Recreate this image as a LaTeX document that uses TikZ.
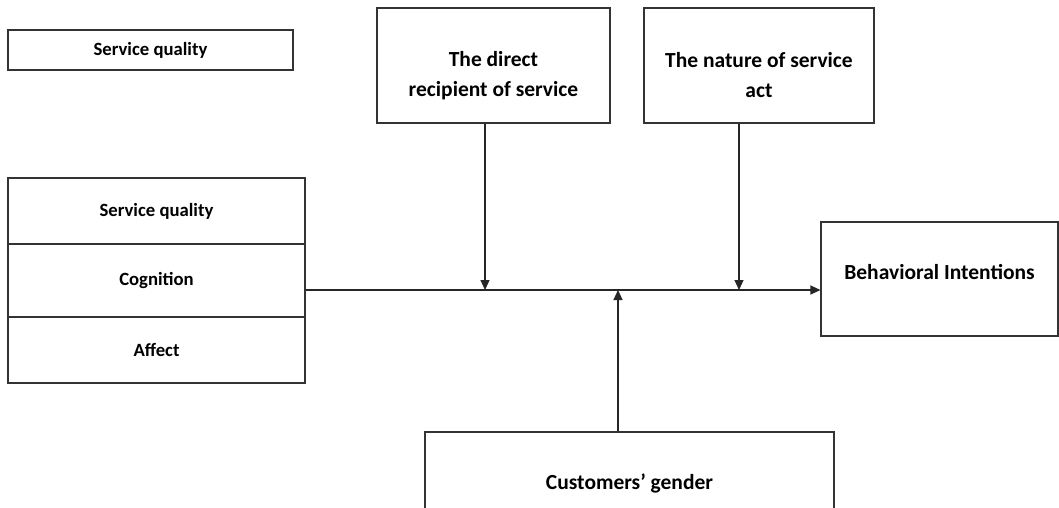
\documentclass[tikz,border=0pt]{standalone}
\usepackage{fontspec}
\setmainfont{Carlito}
\usetikzlibrary{arrows.meta}
\begin{document}
\begin{tikzpicture}[x=1pt,y=-1pt,
  box/.style={draw=black!80,line width=1.1pt,inner sep=0pt,font=\bfseries\fontsize{21.5}{29.5}\selectfont,align=center},
  txt/.style={inner sep=0pt,font=\bfseries\fontsize{21.5}{29.5}\selectfont,align=center},
  smallbox/.style={box,font=\bfseries\fontsize{18.7}{24}\selectfont},
  conn/.style={draw=black!85,line width=1.1pt,-{Triangle[length=10pt,width=9pt]}}]
\useasboundingbox[fill=white] (0,0) rectangle (1059,508);
\begin{scope}
\clip (0,0) rectangle (1059,508);
\node[smallbox,minimum width=285pt,minimum height=40pt] (sq) at (150.5,50) {Service quality};
\node[smallbox,minimum width=297pt,minimum height=66pt] (l1) at (156.5,211) {\raisebox{-2pt}{Service quality}};
\node[smallbox,minimum width=297pt,minimum height=73pt] (l2) at (156.5,280.5) {\raisebox{-2pt}{Cognition}};
\node[smallbox,minimum width=297pt,minimum height=66pt] (l3) at (156.5,350) {Affect};
\node[box,minimum width=233pt,minimum height=115pt] (dr) at (493.5,65.5) {};
\node[txt] (drt) at (493.5,75.5) {The direct\\recipient of service};
\node[box,minimum width=230pt,minimum height=115pt] (na) at (759,65.5) {};
\node[txt] (nat) at (759,75) {The nature of service\\act};
\node[box,minimum width=237pt,minimum height=114pt] (bi) at (939.5,279) {\raisebox{14pt}{Behavioral Intentions}};
\node[box,minimum width=409pt,minimum height=102pt] (cg) at (629.5,483) {Customers’ gender};
\coordinate (m1) at (485,290);
\coordinate (m2) at (739,290);
\coordinate (m3) at (618,290);
\draw[conn] (l2.east |- 0,290) -- (bi.west |- 0,290);
\draw[conn] (dr.south -| m1) -- (m1);
\draw[conn] (na.south -| m2) -- (m2);
\draw[conn] (cg.north -| m3) -- (m3);
\end{scope}
\end{tikzpicture}
\end{document}
